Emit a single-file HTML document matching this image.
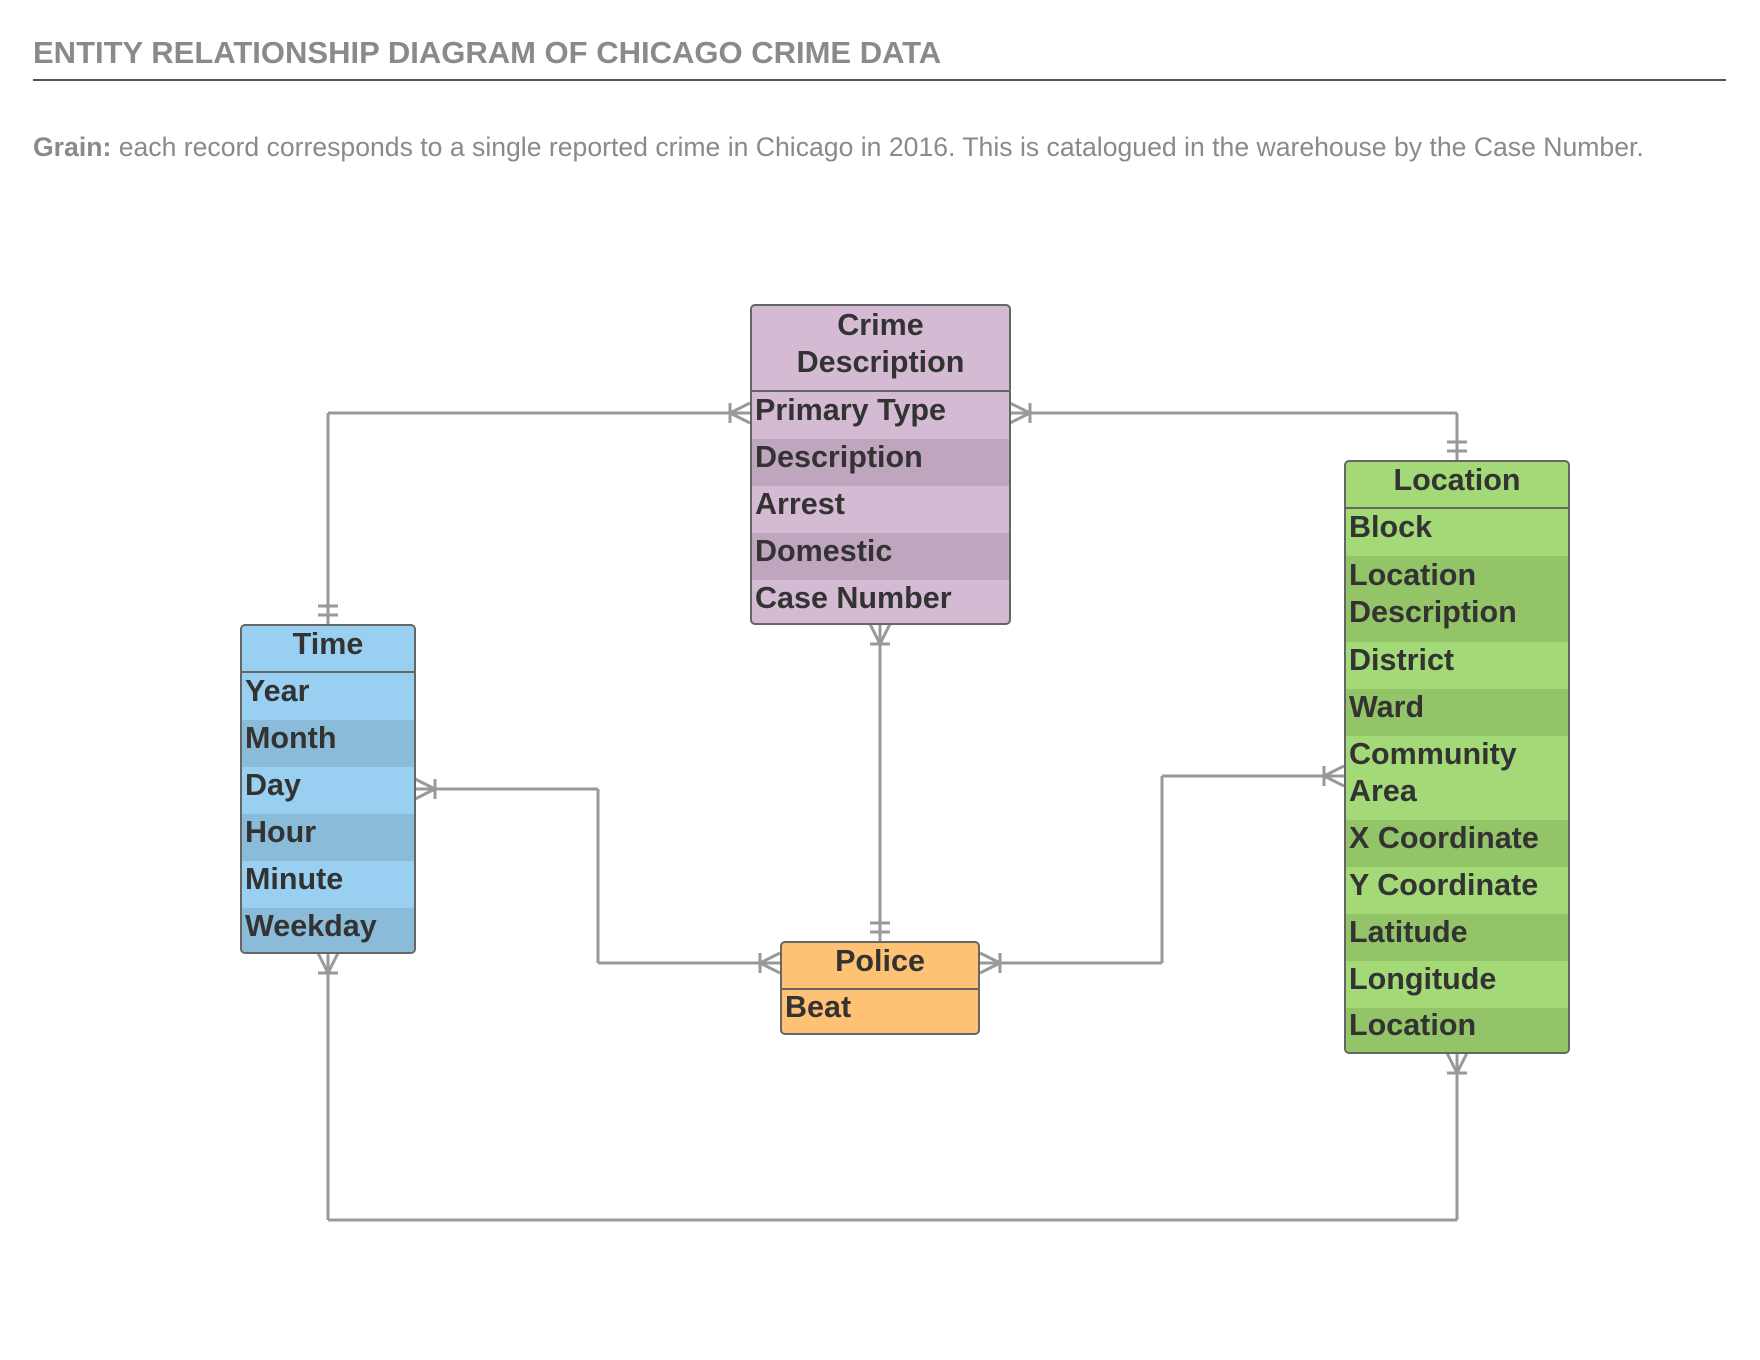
<!DOCTYPE html>
<html><head><meta charset="utf-8"><style>
body{margin:0;width:1760px;height:1360px;background:#fff;font-family:"Liberation Sans",sans-serif;position:relative;overflow:hidden}
.ent{position:absolute;border:2px solid #666;border-radius:5px;overflow:hidden;box-sizing:border-box}
.hd{font-weight:bold;font-size:30.5px;color:#333;text-align:center;border-bottom:2px solid #666;box-sizing:border-box;display:flex;align-items:center;justify-content:center;line-height:37px;padding-bottom:9px}
.row{font-weight:bold;font-size:30.5px;color:#333;padding-left:3px;display:flex;align-items:center;line-height:37px;box-sizing:border-box;padding-bottom:11px}
svg{position:absolute;left:0;top:0}
</style></head><body>
<div style="position:absolute;left:33px;top:35px;font-size:31px;font-weight:bold;color:#8a8a8a">ENTITY RELATIONSHIP DIAGRAM OF CHICAGO CRIME DATA</div>
<div style="position:absolute;left:33px;top:79px;width:1693px;height:2px;background:#555"></div>
<div style="position:absolute;left:33px;top:132px;font-size:26.6px;color:#8a8a8a"><b>Grain:</b> each record corresponds to a single reported crime in Chicago in 2016. This is catalogued in the warehouse by the Case Number.</div>

<svg width="1760" height="1360" id="cn"></svg>

<div class="ent" style="left:750px;top:304px;width:261px;height:321px;background:#d4bbd3">
<div class="hd" style="height:86px">Crime<br>Description</div>
<div class="row" style="height:47px">Primary Type</div>
<div class="row" style="height:47px;background:#bfa5bd">Description</div>
<div class="row" style="height:47px">Arrest</div>
<div class="row" style="height:47px;background:#bfa5bd">Domestic</div>
<div class="row" style="height:47px">Case Number</div>
</div>

<div class="ent" style="left:240px;top:624px;width:176px;height:330px;background:#99d0f2">
<div class="hd" style="height:47px">Time</div>
<div class="row" style="height:47px">Year</div>
<div class="row" style="height:47px;background:#8abbd9">Month</div>
<div class="row" style="height:47px">Day</div>
<div class="row" style="height:47px;background:#8abbd9">Hour</div>
<div class="row" style="height:47px">Minute</div>
<div class="row" style="height:47px;background:#8abbd9">Weekday</div>
</div>

<div class="ent" style="left:780px;top:941px;width:200px;height:94px;background:#ffc274">
<div class="hd" style="height:47px">Police</div>
<div class="row" style="height:45px">Beat</div>
</div>

<div class="ent" style="left:1344px;top:460px;width:226px;height:594px;background:#a3d977">
<div class="hd" style="height:47px">Location</div>
<div class="row" style="height:47px">Block</div>
<div class="row" style="height:86px;background:#93c468">Location<br>Description</div>
<div class="row" style="height:47px">District</div>
<div class="row" style="height:47px;background:#93c468">Ward</div>
<div class="row" style="height:84px">Community<br>Area</div>
<div class="row" style="height:47px;background:#93c468">X Coordinate</div>
<div class="row" style="height:47px">Y Coordinate</div>
<div class="row" style="height:47px;background:#93c468">Latitude</div>
<div class="row" style="height:47px">Longitude</div>
<div class="row" style="height:45px;background:#93c468">Location</div>
</div>

<script>
const svg=document.getElementById('cn');
const NS='http://www.w3.org/2000/svg';
function ln(x1,y1,x2,y2){const l=document.createElementNS(NS,'line');l.setAttribute('x1',x1);l.setAttribute('y1',y1);l.setAttribute('x2',x2);l.setAttribute('y2',y2);l.setAttribute('stroke','#999');l.setAttribute('stroke-width','3');


svg.appendChild(l);}
function path(pts){for(let i=0;i<pts.length-1;i++)ln(pts[i][0],pts[i][1],pts[i+1][0],pts[i+1][1]);}
function crow(x,y,dx,dy){const px=-dy,py=dx;ln(x+px*10,y+py*10,x+dx*20,y+dy*20);ln(x-px*10,y-py*10,x+dx*20,y+dy*20);ln(x+dx*20+px*10,y+dy*20+py*10,x+dx*20-px*10,y+dy*20-py*10);}
function one(x,y,dx,dy){const px=-dy,py=dx;[9,18].forEach(d=>ln(x+dx*d+px*10,y+dy*d+py*10,x+dx*d-px*10,y+dy*d-py*10));}
path([[328,624],[328,413],[750,413]]);crow(750,413,-1,0);one(328,624,0,-1);
path([[1010,413],[1457,413],[1457,460]]);crow(1010,413,1,0);one(1457,460,0,-1);
path([[880,624],[880,941]]);crow(880,624,0,1);one(880,941,0,-1);
path([[415,789],[598,789],[598,963],[780,963]]);crow(415,789,1,0);crow(780,963,-1,0);
path([[980,963],[1162,963],[1162,776],[1344,776]]);crow(980,963,1,0);crow(1344,776,-1,0);
path([[328,953],[328,1220],[1457,1220],[1457,1053]]);crow(328,953,0,1);crow(1457,1053,0,1);
</script>
</body></html>
